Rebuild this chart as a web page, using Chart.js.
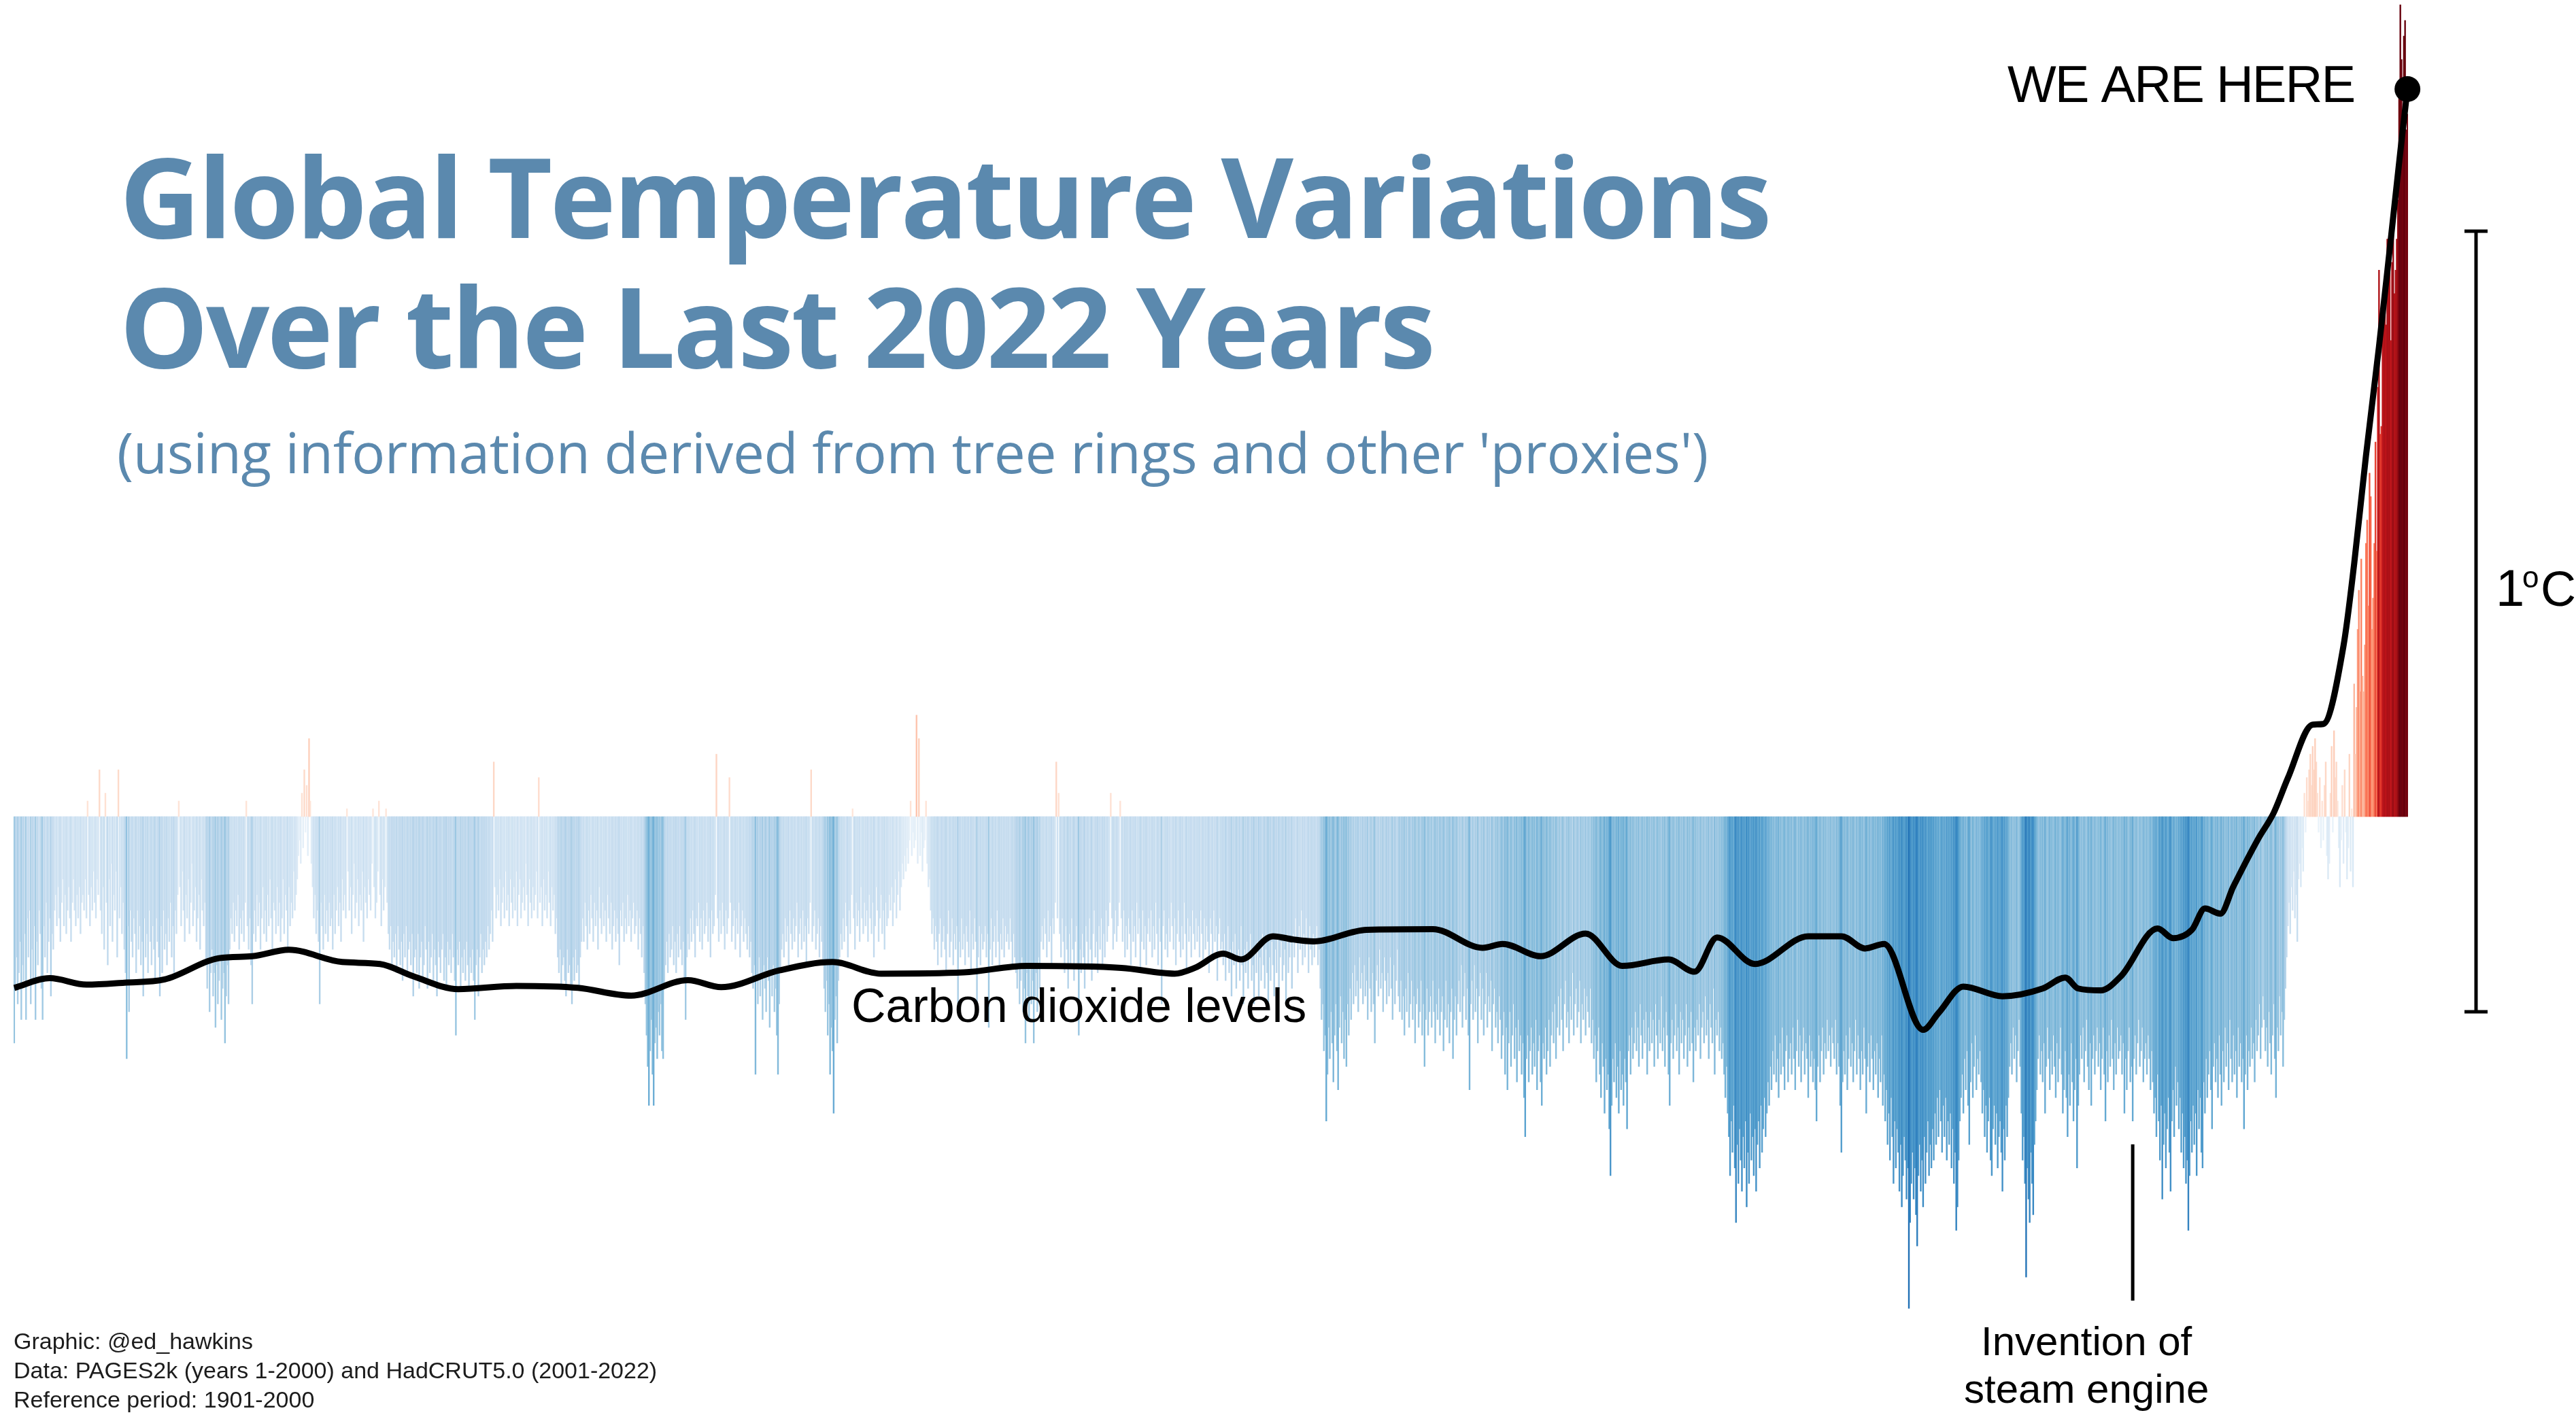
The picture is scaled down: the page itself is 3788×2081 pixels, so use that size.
<!DOCTYPE html>
<html>
<head>
<meta charset="utf-8">
<title>Global Temperature Variations Over the Last 2022 Years</title>
<script src="https://cdn.jsdelivr.net/npm/chart.js@4.4.1/dist/chart.umd.min.js"></script>
<style>
  body { margin: 0; background: #fff; }
  #wrap { position: relative; width: 3788px; height: 2081px; overflow: hidden; }
  #wrap canvas { position: absolute; left: 0; top: 0; }
  h1 { position: absolute; left: 176px; top: 191px; margin: 0; font: 700 164px/191px 'Open Sans'; letter-spacing: -3.5px; color: #5b89ae; }
  .sub { position: absolute; left: 172px; top: 623px; font: 400 82px/82px 'Open Sans'; letter-spacing: -0.4px; color: #5b89ae; white-space: nowrap; }
  .credits { position: absolute; left: 20px; top: 1951px; font: 34px/43px 'Liberation Sans'; color: #1c1c1c; }
</style>
</head>
<body>
<div id="wrap">
  <canvas id="temps" width="3788" height="2081"></canvas>
  <h1>Global Temperature Variations<br>Over the Last 2022 Years</h1>
  <div class="sub">(using information derived from tree rings and other 'proxies')</div>
  <div class="credits">Graphic: @ed_hawkins<br>Data: PAGES2k (years 1-2000) and HadCRUT5.0 (2001-2022)<br>Reference period: 1901-2000</div>
</div>
<script>
// annual anomalies vs 1901-2000, in hundredths of a degree C
var anomYears1to400 = [
  -29, -22, -18, -24, -20, -16, -26, -19, -21, -15, -26, -13, -18, -12, -24, -17, -21, -14, -26, -16,
  -19, -12, -15, -22, -26, -14, -18, -11, -20, -16, -13, -23, -15, -17, -12, -10, -14, -9, -13, -16,
  -11, -8, -14, -10, -15, -12, -9, -13, -16, -11, -8, -12, -14, -10, -13, -9, -15, -11, -10, -12,
  -8, -13, 2, -10, -14, -9, -12, -7, -11, -13, -8, -10, 6, -12, -15, -9, -17, 3, -11, -19,
  -8, -14, -6, -16, -10, -12, -7, -18, 6, -13, -9, -15, -11, -17, -20, -31, -14, -25, -12, -16,
  -18, -13, -15, -20, -12, -17, -14, -19, -16, -23, -13, -18, -15, -20, -12, -16, -19, -14, -17, -21,
  -13, -16, -18, -23, -14, -20, -12, -17, -15, -19, -13, -16, -11, -18, -14, -20, -12, -15, -10, 2,
  -9, -14, -7, -12, -16, -10, -13, -8, -15, -11, -6, -14, -12, -9, -16, -13, -10, -17, -8, -12,
  -14, -11, -19, -22, -18, -25, -20, -17, -23, -20, -27, -19, -24, -21, -18, -26, -22, -20, -29, -23,
  -19, -24, -17, -13, -15, -11, -16, -12, -14, -10, -17, -13, -15, -12, -16, -11, 2, -14, -17, -13,
  -19, -24, -15, -12, -16, -10, -14, -11, -17, -13, -9, -15, -12, -16, -10, -14, -8, -13, -17, -11,
  -12, -15, -9, -14, -11, -16, -13, -8, -15, -10, -12, -17, -9, -14, -11, -13, -7, -12, -10, -8,
  -5, -3, -6, 3, -4, 6, -2, 4, -5, 10, 2, -6, -9, -13, -10, -15, -12, -16, -24, -11,
  -14, -17, -10, -15, -12, -16, -11, -14, -13, -17, -10, -15, -12, -9, -14, -11, -16, -8, -12, -10,
  -13, 1, -7, -12, -9, -15, -10, -6, -13, -11, -8, -14, -10, -12, -7, -16, -9, -11, -13, -8,
  -10, -12, -6, 1, -9, -13, -11, -7, 2, -10, -14, -8, -12, -9, 1, -11, -15, -17, -14, -19,
  -16, -18, -15, -20, -14, -17, -19, -16, -21, -15, -18, -14, -20, -17, -16, -19, -15, -23, -18, -17,
  -20, -15, -22, -18, -16, -21, -19, -14, -17, -22, -16, -20, -18, -15, -21, -17, -19, -23, -16, -18,
  -20, -17, -15, -21, -18, -22, -16, -19, -17, -20, -15, -18, -21, -28, -17, -19, -16, -22, -18, -20,
  -17, -21, -16, -19, -22, -18, -20, -17, -21, -26, -19, -17, -23, -18, -15, -20, -17, -19, -16, -18
];
var anomYears401to800 = [
  -14, -17, -15, -12, -16, 7, -9, -13, -10, -12, -8, -14, -11, -9, -13, -7, -12, -10, -14, -8,
  -11, -13, -9, -12, -7, -14, -10, -8, -13, -11, -9, -12, -6, -10, -14, -8, -11, -13, -9, -12,
  -10, -7, -13, 5, -11, -9, -14, -8, -12, -10, -13, -7, -11, -14, -9, -12, -10, -15, -13, -18,
  -20, -17, -22, -19, -18, -21, -23, -17, -20, -19, -22, -24, -18, -21, -17, -20, -19, -22, -18, -16,
  -13, -16, -11, -14, -17, -12, -15, -10, -13, -16, -11, -14, -12, -17, -9, -13, -15, -11, -14, -12,
  -16, -10, -13, -15, -11, -17, -14, -12, -16, -13, -15, -19, -12, -14, -11, -16, -13, -15, -10, -14,
  -12, -16, -13, -11, -15, -14, -12, -17, -13, -15, -18, -14, -20, -24, -28, -32, -37, -30, -26, -33,
  -37, -29, -27, -31, -25, -28, -24, -30, -31, -22, -19, -16, -20, -15, -18, -17, -14, -19, -16, -20,
  -15, -18, -14, -17, -19, -16, -21, -26, -18, -15, -17, -13, -16, -12, -15, -18, -13, -14, -11, -16,
  -13, -17, -12, -15, -14, -11, -16, -13, -18, -12, -15, -14, -10, 8, -13, -16, -12, -15, -11, -14,
  -17, -12, -15, -13, 5, -11, -16, -14, -12, -17, -13, -15, -11, -18, -14, -12, -16, -13, -15, -17,
  -14, -18, -16, -20, -22, -19, -33, -21, -24, -18, -23, -20, -26, -19, -22, -25, -18, -21, -27, -20,
  -23, -19, -25, -22, -28, -33, -24, -20, -17, -15, -18, -13, -16, -14, -19, -12, -15, -17, -13, -16,
  -14, -11, -18, -15, -13, -17, -12, -16, -14, -19, -13, -15, -11, 6, -16, -14, -12, -17, -15, -13,
  -18, -14, -16, -19, -22, -25, -21, -28, -24, -33, -27, -30, -38, -26, -23, -29, -21, -18, -15, -17,
  -13, -16, -11, -14, -18, -12, -15, -10, 1, -13, -17, -11, -14, -12, -16, -9, -13, -15, -11, -14,
  -12, -16, -10, -13, -15, -11, -18, -14, -9, -12, -16, -13, -10, -15, -12, -17, -11, -14, -13, -10,
  -12, -9, -14, -11, -8, -13, -10, -7, -12, -9, -6, -8, -5, -7, -4, -6, -3, 2, -5, -2,
  -4, -3, 13, -6, 10, -5, -2, -7, -4, -3, 2, -6, -9, -8, -12, -15, -13, -17, -14, -16,
  -19, -15, -13, -18, -16, -14, -17, -20, -15, -12, -18, -16, -13, -19, -15, -17, -14, -24, -16, -18
];
var anomYears801to1200 = [
  -13, -17, -15, -19, -14, -16, -18, -12, -20, -15, -17, -13, -16, -24, -18, -14, -19, -15, -17, -16,
  -14, -18, -15, -27, -17, -13, -19, -16, -14, -18, -12, -16, -19, -15, -17, -13, -18, -14, -16, -15,
  -17, -13, -16, -19, -15, -18, -20, -22, -19, -24, -21, -18, -25, -22, -29, -20, -23, -26, -19, -24,
  -21, -29, -23, -20, -25, -18, -22, -16, -14, -17, -13, -15, -18, -12, -16, -14, -19, -13, -15, -11,
  7, -13, 3, -15, -18, -13, -16, -20, -14, -17, -22, -15, -19, -13, -17, -21, -16, -14, -19, -28,
  -17, -20, -15, -18, -22, -14, -16, -19, -13, -17, -21, -15, -12, -18, -16, -20, -14, -17, -13, -19,
  -15, -18, -12, -16, -14, -11, 3, -13, -17, -15, -12, -16, -14, -11, 2, -13, -16, -12, -18, -14,
  -17, -13, -15, -19, -12, -16, -14, -18, -11, -15, -13, -20, -16, -12, -17, -14, -19, -15, -13, -16,
  -12, -18, -14, -17, -11, -15, -19, -13, -16, -24, -14, -12, -17, -15, -18, -13, -16, -11, -14, -17,
  -13, -19, -15, -12, -16, -18, -14, -17, -11, -15, -20, -13, -16, -14, -18, -12, -15, -17, -13, -16,
  -14, -18, -12, -15, -19, -13, -17, -14, -16, -20, -13, -15, -18, -12, -16, -14, -21, -15, -13, -17,
  -16, -19, -15, -21, -18, -14, -20, -17, -23, -16, -19, -15, -22, -18, -17, -21, -14, -19, -24, -17,
  -20, -16, -22, -18, -15, -21, -19, -24, -17, -20, -16, -23, -18, -21, -15, -19, -22, -17, -20, -24,
  -18, -21, -16, -19, -23, -17, -20, -15, -22, -18, -16, -21, -19, -17, -24, -15, -20, -18, -16, -22,
  -15, -18, -13, -16, -20, -14, -17, -12, -19, -15, -18, -13, -16, -20, -14, -17, -19, -15, -18, -16,
  -14, -19, -17, -22, -26, -24, -30, -28, -39, -33, -27, -31, -25, -29, -34, -28, -24, -30, -35, -27,
  -23, -29, -25, -31, -26, -32, -24, -28, -22, -26, -20, -24, -19, -23, -21, -25, -18, -22, -20, -24,
  -19, -23, -21, -26, -18, -22, -25, -20, -24, -29, -21, -19, -23, -17, -22, -20, -25, -18, -21, -24,
  -20, -23, -18, -22, -26, -19, -24, -21, -17, -23, -25, -21, -26, -23, -28, -22, -25, -20, -27, -24,
  -21, -26, -23, -29, -24, -22, -27, -25, -21, -28, -24, -32, -26, -22, -28, -25, -23, -27, -21, -25
];
var anomYears1201to1600 = [
  -29, -24, -26, -22, -28, -25, -23, -30, -26, -21, -27, -24, -29, -25, -22, -31, -26, -23, -28, -24,
  -21, -25, -19, -27, -23, -20, -26, -22, -28, -35, -24, -21, -26, -19, -25, -22, -29, -23, -20, -26,
  -22, -28, -24, -20, -27, -23, -25, -21, -30, -24, -22, -27, -25, -29, -23, -26, -31, -28, -25, -33,
  -27, -35, -29, -25, -32, -28, -24, -31, -27, -34, -26, -30, -28, -33, -29, -36, -41, -31, -28, -34,
  -30, -27, -33, -29, -32, -26, -35, -30, -28, -34, -37, -29, -31, -27, -33, -30, -26, -32, -28, -25,
  -29, -24, -31, -27, -23, -28, -22, -26, -30, -24, -21, -27, -25, -29, -23, -26, -20, -28, -24, -22,
  -27, -25, -21, -29, -24, -26, -22, -28, -23, -25, -27, -22, -29, -26, -31, -28, -34, -30, -27, -33,
  -36, -29, -32, -38, -31, -35, -33, -40, -46, -37, -31, -34, -29, -36, -32, -38, -30, -35, -33, -37,
  -31, -34, -40, -30, -28, -33, -27, -31, -29, -25, -30, -27, -32, -24, -28, -31, -26, -29, -25, -33,
  -27, -30, -25, -29, -26, -32, -24, -28, -31, -26, -29, -23, -30, -27, -32, -25, -28, -33, -37, -29,
  -26, -31, -28, -24, -30, -27, -33, -25, -29, -26, -31, -28, -24, -32, -27, -30, -25, -29, -34, -27,
  -30, -26, -28, -24, -31, -27, -25, -29, -23, -28, -26, -31, -24, -27, -29, -22, -33, -26, -28, -25,
  -30, -27, -31, -29, -33, -36, -32, -38, -41, -46, -39, -43, -37, -45, -52, -42, -47, -40, -44, -48,
  -41, -45, -39, -50, -43, -47, -38, -44, -41, -46, -40, -48, -42, -39, -45, -37, -43, -40, -36, -41,
  -38, -34, -37, -32, -35, -30, -33, -28, -34, -31, -36, -29, -33, -27, -32, -35, -30, -28, -34, -31,
  -29, -33, -27, -31, -35, -30, -26, -32, -28, -34, -30, -27, -33, -29, -31, -36, -28, -32, -30, -34,
  -31, -35, -39, -32, -28, -34, -30, -27, -33, -29, -31, -26, -30, -28, -32, -27, -29, -31, -26, -33,
  -29, -32, -37, -43, -34, -30, -33, -28, -35, -31, -27, -32, -29, -34, -30, -26, -33, -28, -31, -35,
  -30, -33, -27, -31, -38, -32, -29, -34, -28, -31, -35, -30, -33, -29, -36, -31, -34, -28, -37, -33,
  -39, -35, -42, -38, -44, -36, -41, -47, -39, -45, -40, -43, -48, -42, -50, -46, -41, -44, -49, -45
];
var anomYears1601to2000 = [
  -63, -52, -47, -43, -49, -45, -51, -55, -46, -42, -48, -44, -50, -41, -47, -43, -39, -46, -42, -45,
  -40, -44, -38, -42, -36, -41, -35, -39, -43, -37, -41, -36, -44, -39, -42, -38, -45, -40, -47, -43,
  -53, -50, -44, -39, -36, -33, -38, -31, -35, -30, -37, -42, -34, -29, -36, -32, -28, -35, -31, -33,
  -30, -34, -38, -35, -41, -37, -43, -39, -36, -44, -46, -40, -37, -42, -38, -45, -41, -39, -43, -48,
  -40, -44, -37, -41, -36, -32, -29, -33, -27, -31, -28, -34, -30, -26, -32, -38, -44, -41, -47, -59,
  -45, -49, -52, -43, -47, -51, -42, -39, -35, -31, -28, -33, -30, -34, -29, -38, -32, -27, -31, -35,
  -30, -33, -28, -32, -36, -29, -34, -31, -27, -33, -38, -35, -30, -36, -41, -33, -37, -29, -34, -39,
  -35, -31, -45, -37, -33, -28, -31, -27, -34, -30, -26, -32, -35, -29, -37, -31, -28, -33, -30, -27,
  -32, -29, -35, -31, -27, -33, -39, -30, -34, -28, -32, -26, -31, -35, -29, -33, -27, -31, -30, -28,
  -33, -29, -38, -31, -35, -30, -27, -34, -32, -39, -31, -28, -33, -29, -26, -32, -30, -27, -34, -31,
  -29, -33, -28, -31, -35, -30, -34, -38, -36, -41, -33, -39, -44, -37, -49, -42, -38, -45, -40, -36,
  -43, -48, -39, -35, -41, -32, -37, -34, -40, -36, -43, -38, -45, -41, -47, -44, -53, -46, -39, -43,
  -37, -42, -38, -46, -35, -40, -36, -43, -45, -34, -38, -31, -36, -33, -30, -35, -40, -32, -29, -34,
  -31, -36, -28, -33, -37, -30, -34, -27, -32, -29, -35, -26, -31, -34, -28, -33, -30, -36, -27, -32,
  -29, -34, -31, -40, -33, -28, -35, -30, -32, -27, -31, -29, -34, -26, -30, -28, -24, -31, -27, -23,
  -26, -30, -27, -32, -25, -29, -33, -28, -24, -31, -36, -27, -30, -23, -28, -25, -32, -26, -22, -18,
  -14, -11, -15, -9, -12, -7, -13, -10, -16, -8, -6, -9, -4, -7, 3, -2, 5, 2, 6, 8,
  4, 9, 6, 10, 7, 3, -2, 5, -4, 2, -3, 4, 7, -5, -8, -6, 3, 9, -2, 11,
  5, 7, 2, -4, -9, -3, 4, -6, 6, -2, -8, -4, 8, -7, 1, -9, 17, 8, 14, 24,
  29, 16, 33, 18, 16, 22, 35, 38, 27, 44, 41, 24, 28, 35, 48, 34, 55, 70, 49, 50
];
var anomYears2001to2022 = [
  62, 68, 69, 63, 74, 70, 72, 61, 71, 79, 67, 70, 74, 79, 93, 104, 97, 90, 100, 102, 88, 90
];

// smoothed CO2 concentration (ppm) at selected years
var co2Years = [1, 31, 62, 94, 128, 174, 202, 233, 278, 310, 338, 376, 425, 477, 522, 570, 598, 647, 692, 733,
  803, 856, 936, 981, 998, 1022, 1037, 1064, 1081, 1098, 1143, 1199, 1241, 1258, 1290, 1328, 1359, 1398, 1420, 1439,
  1471, 1516, 1544, 1564, 1580, 1613, 1626, 1647, 1680, 1714, 1733, 1744, 1763, 1780, 1811, 1824, 1840, 1851, 1864, 1875,
  1896, 1909, 1921, 1942, 1951, 1968, 1977, 1987, 1998, 2008, 2016, 2022];
var co2Ppm = [277.7, 279.2, 278.2, 278.5, 279.0, 282.3, 282.6, 283.6, 281.7, 281.4, 279.5, 277.5, 278.0, 277.7, 276.5, 278.9, 277.8, 280.4, 281.7, 279.9,
  280.1, 281.1, 280.8, 279.9, 280.8, 283.0, 282.1, 285.7, 285.2, 284.9, 286.7, 286.8, 283.9, 284.5, 282.6, 286.1, 281.1, 282.1, 280.2, 285.5,
  281.4, 285.7, 285.7, 283.8, 284.5, 271.2, 273.8, 277.9, 276.4, 277.6, 279.3, 277.6, 277.3, 279.5, 286.9, 285.4, 286.7, 290.0, 289.2, 293.4,
  300.8, 304.8, 310.2, 318.5, 318.6, 330.7, 343.4, 360.2, 377.1, 393.8, 407.3, 417.0];

var anomalies = anomYears1to400.concat(anomYears401to800, anomYears801to1200,
  anomYears1201to1600, anomYears1601to2000, anomYears2001to2022).map(function (c) { return c / 100; });
var years = anomalies.map(function (_, i) { return i + 1; });

// colour ramps, value -> rgb
var blueStops = [[0, 238, 245, 251], [-0.1, 214, 230, 244], [-0.2, 189, 215, 236], [-0.3, 143, 193, 222],
  [-0.4, 95, 166, 209], [-0.5, 59, 139, 196], [-0.6, 33, 113, 181]];
var redStops = [[0, 254, 232, 221], [0.1, 253, 208, 188], [0.2, 252, 171, 143], [0.3, 252, 138, 106],
  [0.4, 249, 105, 76], [0.5, 224, 53, 42], [0.6, 196, 22, 28], [0.75, 165, 15, 21], [0.85, 122, 5, 16], [1.0, 103, 0, 13]];

function shade(v) {
  var stops = v < 0 ? blueStops : redStops;
  var a = Math.abs(v);
  for (var i = 1; i < stops.length; i++) {
    var lo = stops[i - 1], hi = stops[i];
    if (a <= Math.abs(hi[0]) || i == stops.length - 1) {
      var t = Math.min(1, (a - Math.abs(lo[0])) / (Math.abs(hi[0]) - Math.abs(lo[0])));
      var c = [1, 2, 3].map(function (k) { return Math.round(lo[k] + (hi[k] - lo[k]) * t); });
      return 'rgb(' + c.join(',') + ')';
    }
  }
}

var annotations = {
  id: 'annotations',
  afterDatasetsDraw: function (chart) {
    var ctx = chart.ctx, x = chart.scales.x, y = chart.scales.y, area = chart.chartArea;
    var dot = chart.getDatasetMeta(0).data[co2Years.length - 1];
    ctx.save();
    ctx.fillStyle = '#000';
    ctx.strokeStyle = '#000';
    ctx.textBaseline = 'alphabetic';

    ctx.font = '70px "Liberation Sans"';
    ctx.fillText('Carbon dioxide levels', x.getPixelForValue(707), y.getPixelForValue(-0.263));

    // we are here
    ctx.font = '76px "Liberation Sans"';
    ctx.letterSpacing = '-2px';
    ctx.textAlign = 'right';
    ctx.fillText('WE ARE HERE', dot.x - 78, dot.y + 19);

    // steam engine marker
    var sx = x.getPixelForValue(1789);
    var sBottom = y.getPixelForValue(-0.62);
    ctx.lineWidth = 5;
    ctx.beginPath();
    ctx.moveTo(sx, y.getPixelForValue(-0.42));
    ctx.lineTo(sx, sBottom);
    ctx.stroke();
    ctx.letterSpacing = '0px';
    ctx.font = '60px "Liberation Sans"';
    ctx.textAlign = 'center';
    ctx.fillText('Invention of', sx - 68, sBottom + 80);
    ctx.fillText('steam engine', sx - 68, sBottom + 150);

    // 1 degree scale bar
    var bx = area.right + 100;
    var top = y.getPixelForValue(0.75), bottom = y.getPixelForValue(-0.25);
    ctx.lineWidth = 5;
    ctx.beginPath();
    ctx.moveTo(bx, top); ctx.lineTo(bx, bottom);
    ctx.moveTo(bx - 17, top); ctx.lineTo(bx + 17, top);
    ctx.moveTo(bx - 17, bottom); ctx.lineTo(bx + 17, bottom);
    ctx.stroke();
    ctx.textAlign = 'left';
    var base = y.getPixelForValue(0.27);
    ctx.font = '76px "Liberation Sans"';
    ctx.fillText('1', bx + 29, base);
    ctx.font = '44px "Liberation Sans"';
    ctx.fillText('o', bx + 68, base - 27);
    ctx.font = '72px "Liberation Sans"';
    ctx.fillText('C', bx + 95, base);
    ctx.restore();
  }
};

var ctx = document.getElementById('temps').getContext('2d');
var chart = new Chart(ctx, {
  type: 'bar',
  data: {
    labels: years,
    datasets: [{
      type: 'line',
      label: 'CO2',
      yAxisID: 'co2',
      data: co2Years.map(function (yr, i) { return { x: yr, y: co2Ppm[i] }; }),
      borderColor: '#000',
      borderWidth: 9,
      cubicInterpolationMode: 'monotone',
      pointRadius: function (c) { return c.dataIndex === co2Years.length - 1 ? 19 : 0; },
      pointBackgroundColor: '#000',
      pointBorderWidth: 0,
      clip: false,
      order: 0
    }, {
      label: 'Temperature anomaly',
      yAxisID: 'y',
      data: anomalies,
      backgroundColor: anomalies.map(shade),
      borderWidth: 0,
      barPercentage: 1,
      categoryPercentage: 1,
      order: 1
    }]
  },
  options: {
    responsive: false,
    animation: false,
    events: [],
    layout: { autoPadding: false, padding: { left: 20, right: 247, top: 0, bottom: 0 } },
    plugins: { legend: { display: false }, tooltip: { enabled: false } },
    scales: {
      x: { display: false },
      y: { display: false, min: -0.7666, max: 1.0462 },
      co2: { display: false, min: 211.5, max: 430.8 }
    }
  },
  plugins: [annotations]
});
</script>
</body>
</html>
